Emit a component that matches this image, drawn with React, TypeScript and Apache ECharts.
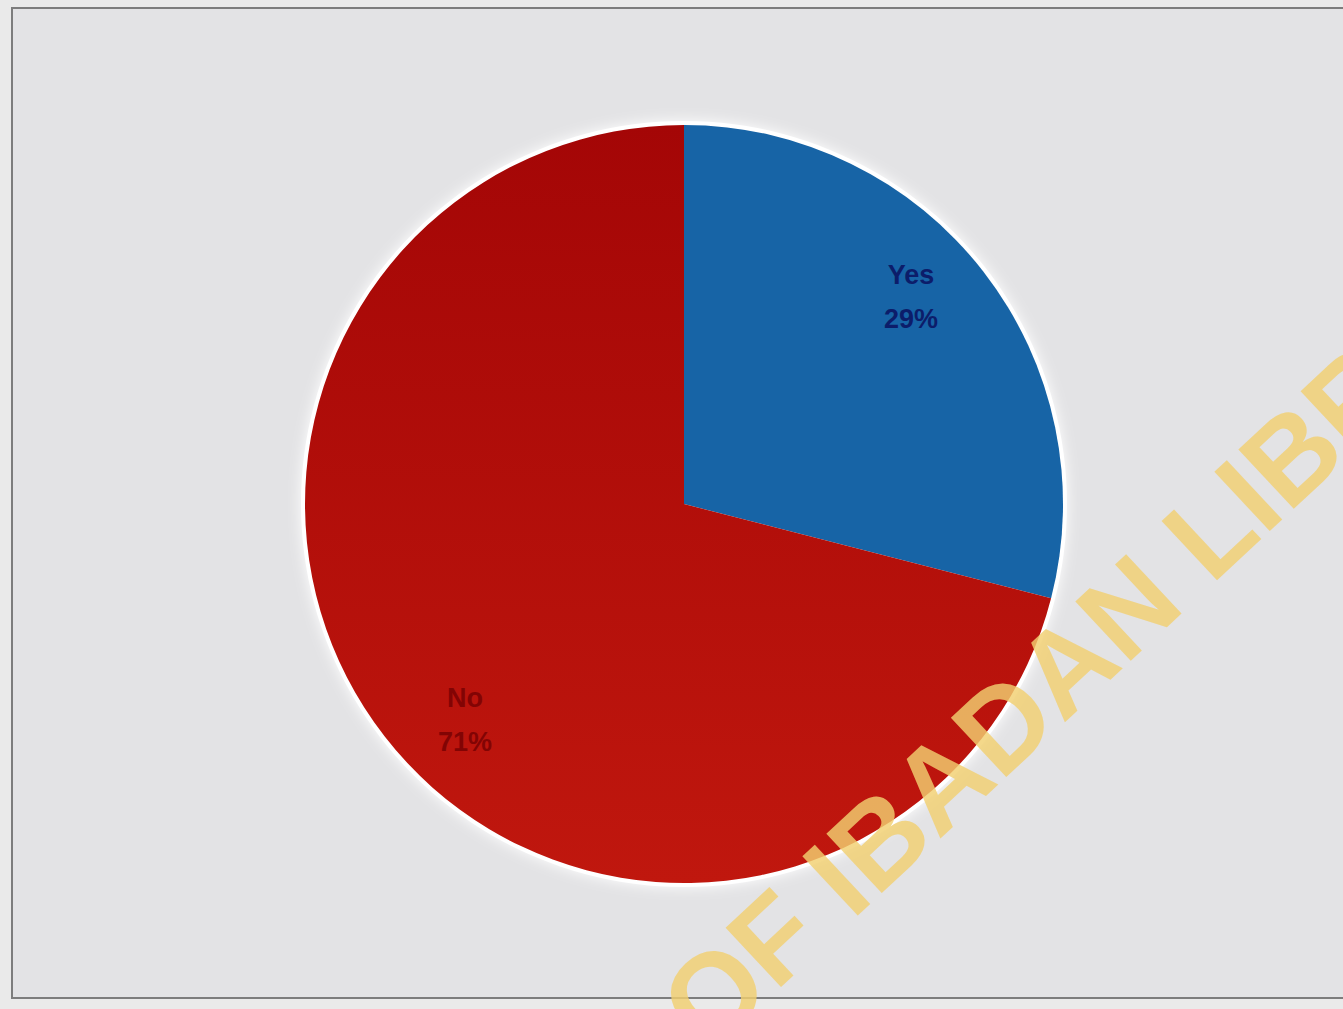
import React, { useEffect, useRef } from "react";
import * as echarts from "echarts";

const categories = ["Yes", "No"];
const values = [29, 71];
const watermarkLead = "UNIVERSITY OF ";
const watermarkTail = "IBADAN LIBRARY";

export default function App() {
  const ref = useRef<HTMLDivElement>(null);
  useEffect(() => {
    const chart = echarts.init(ref.current!, null, { renderer: "svg" });
    const colors = [
      "#1764a6",
      {
        type: "linear", x: 0, y: 0, x2: 0, y2: 1,
        colorStops: [
          { offset: 0, color: "#a40606" },
          { offset: 1, color: "#c0170e" },
        ],
      },
    ];
    const labelColors = ["#0c1d6a", "#820404"];
    const labelShift = [
      { dx: -16, dy: -19 },
      { dx: 24, dy: 28 },
    ];
    const data = categories.map((c, i) => ({
      name: c,
      value: values[i],
      itemStyle: { color: colors[i] as any },
      label: { color: labelColors[i] },
    }));
    const rot = (43 * Math.PI) / 180;
    const wmStyle = {
      font: "bold 118px 'Liberation Sans', Arial, sans-serif",
      fill: "rgba(242, 208, 112, 0.82)",
      textVerticalAlign: "middle",
    };
    chart.setOption({
      animation: false,
      backgroundColor: "#eaeaea",
      graphic: [
        {
          type: "rect",
          z: -10,
          shape: { x: 12, y: 8, width: 1400, height: 990 },
          style: { fill: "#e3e3e5", stroke: "#7d7d7d", lineWidth: 2 },
        },
        {
          type: "text",
          z: 100,
          x: 824,
          y: 891,
          rotation: rot,
          style: { ...wmStyle, text: watermarkLead, textAlign: "right" },
        },
        {
          type: "text",
          z: 100,
          x: 824,
          y: 891,
          rotation: rot,
          style: { ...wmStyle, text: watermarkTail, textAlign: "left" },
        },
      ],
      series: [
        {
          type: "pie",
          silent: true,
          center: [684, 504],
          radius: [0, 383],
          z: 1,
          label: { show: false },
          itemStyle: { color: "#ffffff", shadowBlur: 14, shadowColor: "rgba(255,255,255,1)" },
          data: [{ name: "halo", value: values.reduce((a, b) => a + b, 0) }],
        },
        {
          type: "pie",
          center: [684, 504],
          radius: [0, 379],
          startAngle: 90,
          clockwise: true,
          z: 2,
          label: { show: false },
          labelLine: { show: false },
          itemStyle: { borderWidth: 0 },
          data,
        },
        {
          type: "pie",
          silent: true,
          center: [684, 504],
          radius: [230, 379],
          startAngle: 90,
          clockwise: true,
          z: 3,
          itemStyle: { color: "rgba(0,0,0,0)" },
          label: {
            show: true,
            position: "inside",
            formatter: "{b}\n{d}%",
            fontFamily: "'Liberation Sans', Arial, sans-serif",
            fontWeight: "bold",
            fontSize: 27,
            lineHeight: 44,
          },
          labelLayout: (params: any) => labelShift[params.dataIndex] || {},
          labelLine: { show: false },
          data: data.map((d) => ({ name: d.name, value: d.value, label: d.label })),
        },
      ],
    });
    return () => chart.dispose();
  }, []);
  return (
    <div
      ref={ref}
      style={{ position: "fixed", left: 0, top: 0, width: 1343, height: 1009 }}
    />
  );
}
